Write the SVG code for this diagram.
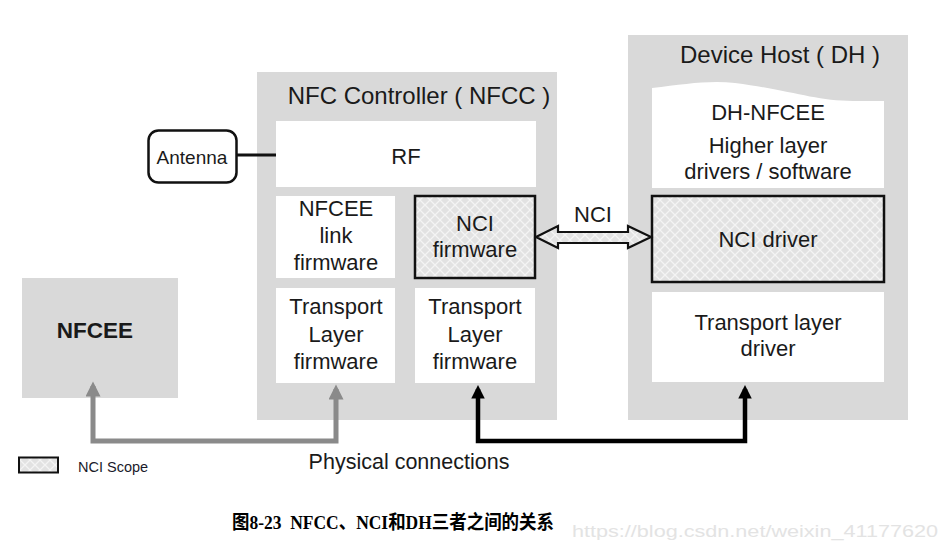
<svg xmlns="http://www.w3.org/2000/svg" width="946" height="551" viewBox="0 0 946 551">
<defs>
<pattern id="hatch" width="10" height="10" patternUnits="userSpaceOnUse">
<rect width="10" height="10" fill="#e2e2e2"/>
<path d="M0 0 L10 10 M10 0 L0 10" stroke="#f4f4f4" stroke-width="1.3"/>
</pattern>
<marker id="ahGray" viewBox="0 0 10 10" refX="7" refY="5" markerWidth="3.2" markerHeight="3" orient="auto-start-reverse" markerUnits="strokeWidth">
<path d="M0 0 L10 5 L0 10 Z" fill="#8a8a8a"/>
</marker>
<marker id="ahBlack" viewBox="0 0 10 10" refX="7" refY="5" markerWidth="3.2" markerHeight="3" orient="auto-start-reverse" markerUnits="strokeWidth">
<path d="M0 0 L10 5 L0 10 Z" fill="#000"/>
</marker>
</defs>
<style>
.t{font-family:"Liberation Sans",Arial,sans-serif;fill:#1a1a1a;text-anchor:middle}
.m{font-size:22px}
.h{font-size:24px}
.cont{fill:#d9d9d9}
.wb{fill:#ffffff}
.nci{fill:url(#hatch);stroke:#111;stroke-width:2.5}
</style>
<rect width="946" height="551" fill="#ffffff"/>

<g id="nfcc">
<rect class="cont" x="257" y="72" width="300" height="348"/>
<text class="t h" x="419" y="104">NFC Controller ( NFCC )</text>
</g>
<g id="device-host">
<rect class="cont" x="628" y="35" width="280" height="385"/>
<text class="t h" x="780" y="63">Device Host ( DH )</text>
</g>
<g id="nfcee">
<rect class="cont" x="22" y="278" width="156" height="120"/>
<text class="t" x="95" y="338" font-size="22.5" font-weight="bold">NFCEE</text>
</g>
<g id="antenna">
<rect x="148.5" y="130.5" width="88" height="52" rx="10" fill="#fff" stroke="#111" stroke-width="2.5"/>
<text class="t" x="192" y="164" font-size="19">Antenna</text>
</g>
<g id="rf">
<rect class="wb" x="276" y="121" width="260" height="66"/>
<text class="t m" x="406" y="164">RF</text>
</g>
<g id="nfcee-link-firmware">
<rect class="wb" x="276" y="196" width="119" height="82"/>
<text class="t m" x="336" y="216">NFCEE</text>
<text class="t m" x="336" y="243">link</text>
<text class="t m" x="336" y="270">firmware</text>
</g>
<g id="nci-firmware">
<rect class="nci" x="415" y="196" width="120" height="82"/>
<text class="t m" x="475" y="231">NCI</text>
<text class="t m" x="475" y="257">firmware</text>
</g>
<g id="transport-left">
<rect class="wb" x="276" y="288" width="119" height="95"/>
<text class="t m" x="336" y="314">Transport</text>
<text class="t m" x="336" y="342">Layer</text>
<text class="t m" x="336" y="369">firmware</text>
</g>
<g id="transport-right">
<rect class="wb" x="415" y="288" width="120" height="95"/>
<text class="t m" x="475" y="314">Transport</text>
<text class="t m" x="475" y="342">Layer</text>
<text class="t m" x="475" y="369">firmware</text>
</g>
<g id="dh-nfcee">
<path class="wb" d="M652 88 C 685 84, 710 80, 735 83 C 790 90, 815 101, 853 101 L 884 101 L 884 188 L 652 188 Z"/>
<text class="t m" x="768" y="120">DH-NFCEE</text>
<text class="t m" x="768" y="153">Higher layer</text>
<text class="t m" x="768" y="179">drivers / software</text>
</g>
<g id="nci-driver">
<rect class="nci" x="652" y="196" width="232" height="86"/>
<text class="t m" x="768" y="247">NCI driver</text>
</g>
<g id="transport-driver">
<rect class="wb" x="652" y="292" width="232" height="90"/>
<text class="t m" x="768" y="330">Transport layer</text>
<text class="t m" x="768" y="356">driver</text>
</g>

<g id="connectors">
<line x1="237" y1="155" x2="276" y2="155" stroke="#111" stroke-width="3"/>
<path d="M536 237 L558 226 L558 232 L628 232 L628 226 L651 237 L628 248 L628 243 L558 243 L558 248 Z" fill="url(#hatch)" stroke="#111" stroke-width="2.2" stroke-linejoin="miter"/>
<text class="t m" x="593" y="222">NCI</text>
<path d="M93 386 L93 441 L336 441 L336 389" fill="none" stroke="#8a8a8a" stroke-width="5" marker-start="url(#ahGray)" marker-end="url(#ahGray)"/>
<path d="M478 389 L478 441 L745 441 L745 389" fill="none" stroke="#000" stroke-width="4.5" marker-start="url(#ahBlack)" marker-end="url(#ahBlack)"/>
<text class="t" x="409" y="469" font-size="21.5">Physical connections</text>
</g>

<g id="legend">
<rect x="19" y="457.5" width="39" height="15" fill="url(#hatch)" stroke="#111" stroke-width="2"/>
<text x="78" y="472" font-family="Liberation Sans,Arial,sans-serif" font-size="14.5" fill="#1a1a2a">NCI Scope</text>
</g>

<text x="232" y="529" xml:space="preserve" style="white-space:pre" font-family="Liberation Serif,'Noto Sans CJK SC',serif" font-size="19" font-weight="bold" fill="#000" textLength="322" lengthAdjust="spacingAndGlyphs">图8-23  NFCC、NCI和DH三者之间的关系</text>
<text x="572" y="537" font-family="Liberation Sans,Arial,sans-serif" font-size="16" fill="#e3e3e3" textLength="366" lengthAdjust="spacingAndGlyphs">https://blog.csdn.net/weixin_41177620</text>
</svg>
